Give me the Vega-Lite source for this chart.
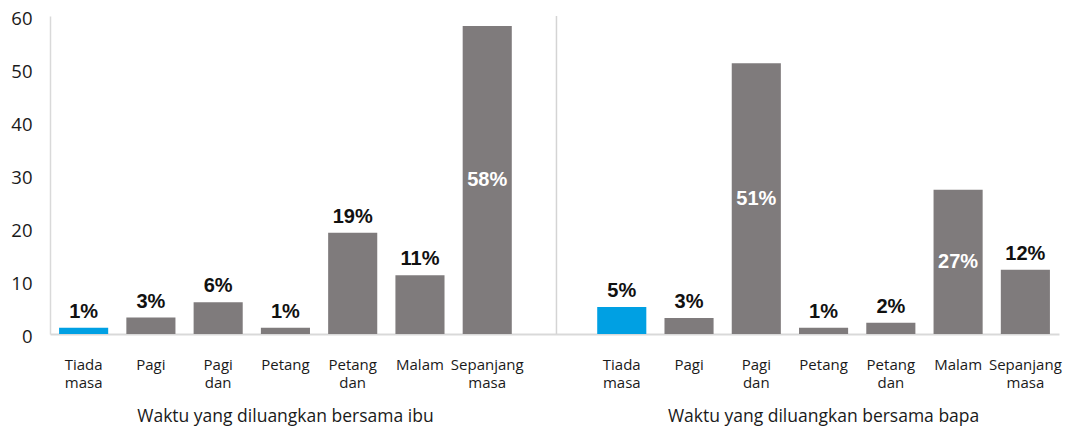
{
  "$schema": "https://vega.github.io/schema/vega-lite/v6.json",
  "width": 1009,
  "height": 318,
  "autosize": "none",
  "padding": {"left": 50, "top": 16, "right": 12, "bottom": 94},
  "background": "white",
  "config": {
    "view": {"stroke": null},
    "axisX": {
      "labelAngle": 0,
      "ticks": false,
      "domainColor": "#d9d9d9",
      "domainWidth": 2,
      "labelExpr": "split(split(datum.label,'|')[0],' ')",
      "labelFont": "Open Sans",
      "labelFontSize": 15,
      "labelLineHeight": 18,
      "labelPadding": 23,
      "labelColor": "#1a1a1a",
      "labelOverlap": false,
      "labelLimit": 0
    },
    "axisY": {
      "ticks": false,
      "grid": false,
      "domainColor": "#d9d9d9",
      "domainWidth": 1.5,
      "labelFont": "Open Sans",
      "labelFontSize": 18.5,
      "labelColor": "#1a1a1a",
      "labelPadding": 18,
      "labelOffset": 2,
      "values": [0, 10, 20, 30, 40, 50, 60]
    }
  },
  "datasets": {
    "bars": [
      {"slot": "Tiada masa|i", "group": "ibu", "value": 1.2, "label": "1%"},
      {"slot": "Pagi|i", "group": "ibu", "value": 3.1, "label": "3%"},
      {"slot": "Pagi dan|i", "group": "ibu", "value": 6.0, "label": "6%"},
      {"slot": "Petang|i", "group": "ibu", "value": 1.2, "label": "1%"},
      {"slot": "Petang dan|i", "group": "ibu", "value": 19.1, "label": "19%"},
      {"slot": "Malam|i", "group": "ibu", "value": 11.1, "label": "11%"},
      {"slot": "Sepanjang masa|i", "group": "ibu", "value": 58.1, "label": "58%"},
      {"slot": "Tiada masa|b", "group": "bapa", "value": 5.1, "label": "5%"},
      {"slot": "Pagi|b", "group": "bapa", "value": 3.0, "label": "3%"},
      {"slot": "Pagi dan|b", "group": "bapa", "value": 51.1, "label": "51%"},
      {"slot": "Petang|b", "group": "bapa", "value": 1.2, "label": "1%"},
      {"slot": "Petang dan|b", "group": "bapa", "value": 2.1, "label": "2%"},
      {"slot": "Malam|b", "group": "bapa", "value": 27.2, "label": "27%"},
      {"slot": "Sepanjang masa|b", "group": "bapa", "value": 12.1, "label": "12%"}
    ],
    "groups": [
      {"slot": "Petang|i", "text": "Waktu yang diluangkan bersama ibu"},
      {"slot": "Petang|b", "text": "Waktu yang diluangkan bersama bapa"}
    ]
  },
  "data": {"name": "bars"},
  "encoding": {
    "x": {
      "field": "slot",
      "type": "nominal",
      "title": null,
      "scale": {
        "domain": ["Tiada masa|i", "Pagi|i", "Pagi dan|i", "Petang|i", "Petang dan|i", "Malam|i", "Sepanjang masa|i", "|gap", "Tiada masa|b", "Pagi|b", "Pagi dan|b", "Petang|b", "Petang dan|b", "Malam|b", "Sepanjang masa|b"],
        "paddingInner": 0.27,
        "paddingOuter": 0.135
      }
    }
  },
  "layer": [
    {
      "mark": {"type": "bar"},
      "encoding": {
        "y": {"field": "value", "type": "quantitative", "title": null, "scale": {"domain": [0, 60], "nice": false}},
        "color": {
          "condition": {"test": "indexof(datum.slot,'Tiada')===0", "value": "#00a0e3"},
          "value": "#7f7b7c"
        }
      }
    },
    {
      "transform": [{"filter": "datum.value <= 25"}],
      "mark": {"type": "text", "font": "Liberation Sans", "fontWeight": "bold", "fontSize": 20, "color": "#111111", "baseline": "alphabetic", "dy": -10},
      "encoding": {
        "y": {"field": "value", "type": "quantitative", "title": null},
        "text": {"field": "label"}
      }
    },
    {
      "transform": [{"filter": "datum.value > 25"}, {"calculate": "datum.value/2", "as": "mid"}],
      "mark": {"type": "text", "font": "Liberation Sans", "fontWeight": "bold", "fontSize": 20, "color": "#ffffff", "baseline": "middle"},
      "encoding": {
        "y": {"field": "mid", "type": "quantitative", "title": null},
        "text": {"field": "label"}
      }
    },
    {
      "data": {"values": [{"slot": "|gap"}]},
      "mark": {"type": "rule", "color": "#d4d4d4", "strokeWidth": 1.5},
      "encoding": {
        "x": {"field": "slot", "type": "nominal", "bandPosition": 0.54},
        "y": {"datum": 0},
        "y2": {"datum": 60}
      }
    },
    {
      "data": {"name": "groups"},
      "mark": {"type": "text", "font": "Open Sans", "fontSize": 17.5, "color": "#1a1a1a", "baseline": "middle", "dy": 83},
      "encoding": {
        "y": {"datum": 0},
        "text": {"field": "text"}
      }
    }
  ]
}
